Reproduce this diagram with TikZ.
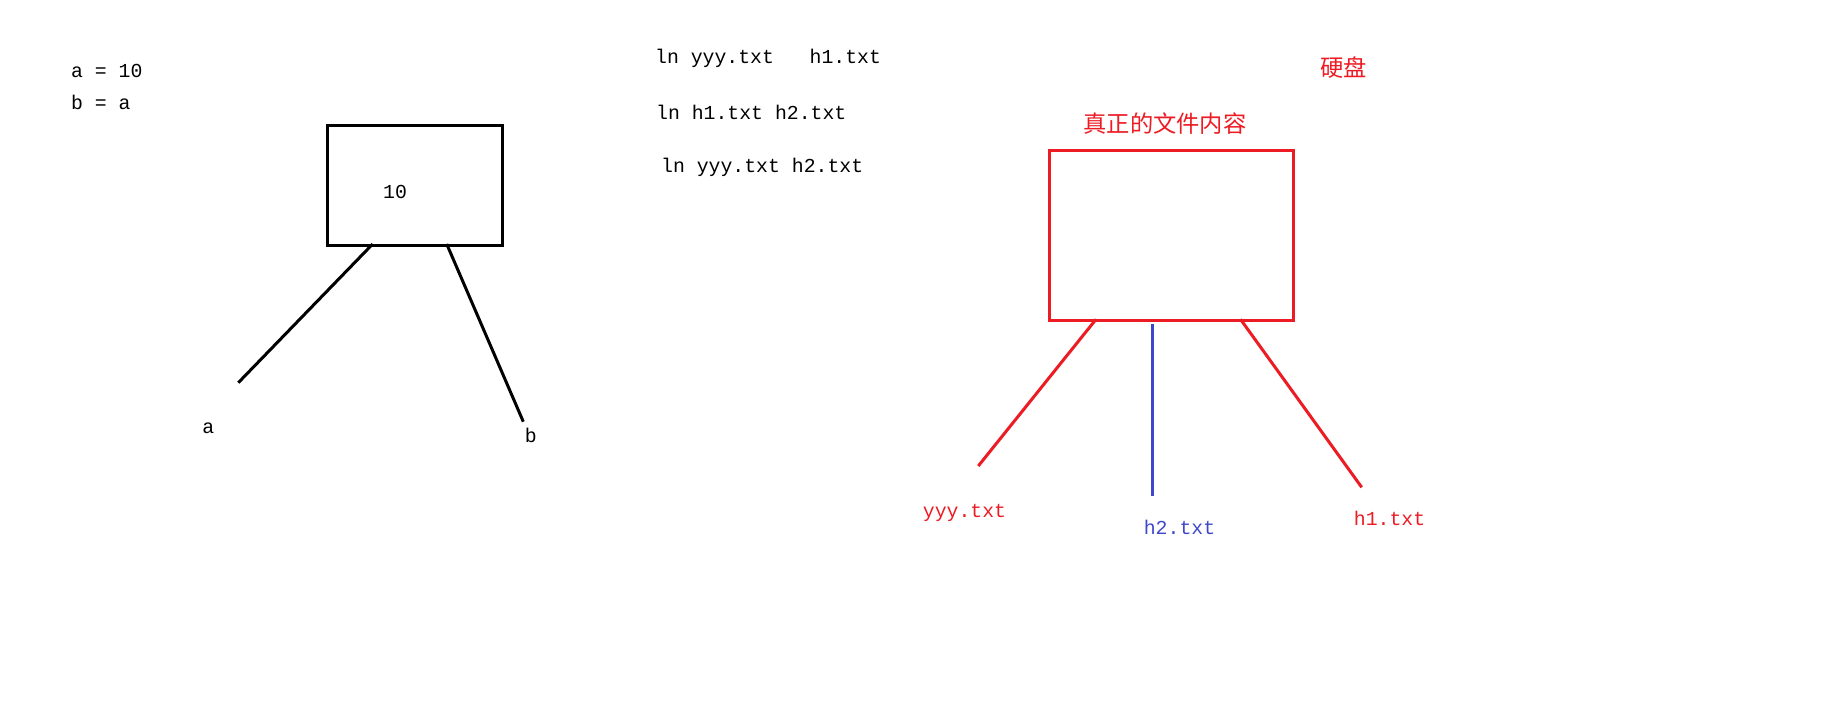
\documentclass[tikz,border=0pt]{standalone}
\usepackage{fontspec}
\setmainfont{Liberation Mono}
\newfontfamily\cjk{Noto Sans CJK SC}
\definecolor{pred}{RGB}{237,28,36}
\definecolor{pblue}{RGB}{63,72,204}
\begin{document}
\begin{tikzpicture}[x=1pt,y=-1pt,
  txt/.style={inner sep=0pt,font=\fontsize{19.8}{22}\selectfont},
  ctxt/.style={inner sep=0pt,font=\cjk\fontsize{23.3}{26}\selectfont,text=pred},
  blkline/.style={line width=3pt,black},
  redline/.style={line width=3pt,pred},
  blueline/.style={line width=3pt,pblue}]
\useasboundingbox[fill=white] (0,0) rectangle (1834,728);
% left part
\node[txt,anchor=west] (eq1) at (71,70.5) {a = 10};
\node[txt,anchor=west] (eq2) at (71,102.5) {b = a};
\node[draw,blkline,minimum width=174.5pt,minimum height=120pt,anchor=north west] (mem) at (326,124.3) {};
\node[txt] (ten) at (395,191.5) {10};
\coordinate (ma) at (372.7,244);
\coordinate (mb) at (446.7,244);
\coordinate (ea) at (238.3,382.7);
\coordinate (eb) at (523.3,421.7);
\draw[blkline] (ma) -- (ea);
\draw[blkline] (mb) -- (eb);
\node[txt] (la) at (208.3,428) {a};
\node[txt] (lb) at (530.7,435) {b};
% middle commands
\node[txt,anchor=west] (c1) at (655,58) {ln yyy.txt\ \ \ h1.txt};
\node[txt,anchor=west] (c2) at (656,112) {ln h1.txt h2.txt};
\node[txt,anchor=west] (c3) at (661,167) {ln yyy.txt h2.txt};
% right part
\node[ctxt] (disk) at (1343.5,67.3) {硬盘};
\node[ctxt] (real) at (1165,123.3) {真正的文件内容};
\node[draw,redline,minimum width=244.7pt,minimum height=170pt,anchor=north west] (file) at (1047.7,149.3) {};
\coordinate (f1) at (1096,319.3);
\coordinate (f2) at (1152.3,324.3);
\coordinate (f3) at (1240.5,319.3);
\coordinate (e1) at (978.3,466);
\coordinate (e2) at (1152.3,495.7);
\coordinate (e3) at (1361.7,487.3);
\draw[redline] (f1) -- (e1);
\draw[blueline] (f2) -- (e2);
\draw[redline] (f3) -- (e3);
\node[txt,text=pred] (yyy) at (964.5,513.3) {yyy.txt};
\node[txt,text=pblue] (h2) at (1179.5,527.7) {h2.txt};
\node[txt,text=pred] (h1) at (1389.5,518.3) {h1.txt};
\end{tikzpicture}
\end{document}
